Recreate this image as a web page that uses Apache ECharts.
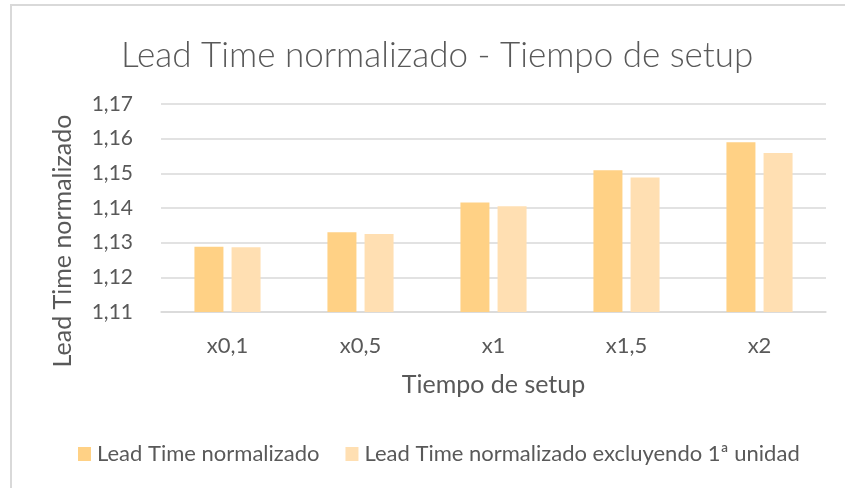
<!DOCTYPE html>
<html>
<head>
<meta charset="utf-8">
<script src="https://cdn.jsdelivr.net/npm/echarts@6/dist/echarts.min.js"></script>
<style>
html,body{margin:0;padding:0;background:#fff;}
#c{width:845px;height:488px;}
</style>
</head>
<body>
<div id="c"></div>
<script>
var categories = ['x0,1', 'x0,5', 'x1', 'x1,5', 'x2'];
var leadTime = [1.1288, 1.1330, 1.1416, 1.1509, 1.1590];
var leadTimeExcl = [1.1287, 1.1325, 1.1405, 1.1488, 1.1559];
var seriesNames = ['Lead Time normalizado', 'Lead Time normalizado excluyendo 1ª unidad'];
var yMin = 1.11, yMax = 1.17, yStep = 0.01;

var FONT = 'Lato';
var TXT = '#595959';
var chart = echarts.init(document.getElementById('c'), null, {renderer: 'canvas'});
chart.setOption({
  animation: false,
  backgroundColor: '#ffffff',
  title: {
    text: 'Lead Time normalizado - Tiempo de setup',
    left: 116,
    top: 33,
    textStyle: {fontFamily: FONT, fontWeight: 300, fontSize: 35, color: TXT}
  },
  graphic: [
    {type: 'line', shape: {x1: 11, y1: 5, x2: 11, y2: 488}, style: {stroke: '#D9D9D9', lineWidth: 2}},
    {type: 'line', shape: {x1: 10, y1: 5, x2: 845, y2: 5}, style: {stroke: '#D9D9D9', lineWidth: 2}}
  ],
  legend: {
    left: 73,
    top: 438,
    itemWidth: 13,
    itemHeight: 14,
    itemGap: 26,
    icon: 'rect',
    textStyle: {fontFamily: FONT, fontSize: 22, color: TXT, padding: [0, 0, 0, 1]},
    data: seriesNames
  },
  grid: {left: 161, right: 19, top: 104, bottom: 176, containLabel: false},
  xAxis: {
    type: 'category',
    data: categories,
    name: 'Tiempo de setup',
    nameLocation: 'middle',
    nameGap: 60,
    nameTextStyle: {fontFamily: FONT, fontSize: 25, color: TXT},
    axisTick: {show: false},
    axisLine: {lineStyle: {color: '#D9D9D9', width: 1.5}},
    axisLabel: {fontFamily: FONT, fontSize: 22, color: TXT, margin: 23}
  },
  yAxis: {
    type: 'value',
    min: yMin,
    max: yMax,
    interval: yStep,
    name: 'Lead Time normalizado',
    nameLocation: 'middle',
    nameGap: 86,
    nameRotate: 90,
    nameTextStyle: {fontFamily: FONT, fontSize: 25, color: TXT, padding: [0, 66, 0, 0]},
    axisLine: {show: false},
    axisTick: {show: false},
    splitLine: {lineStyle: {color: '#D9D9D9', width: 1.5}},
    axisLabel: {
      fontFamily: FONT, fontSize: 21, color: TXT, margin: 28,
      formatter: function (v) { return v.toFixed(2).replace('.', ','); }
    }
  },
  series: [
    {
      name: seriesNames[0], type: 'bar', data: leadTime,
      barWidth: 29, barGap: '28%',
      itemStyle: {color: '#FFD185'}
    },
    {
      name: seriesNames[1], type: 'bar', data: leadTimeExcl,
      barWidth: 29, barGap: '28%',
      itemStyle: {color: '#FFDFB2'}
    }
  ]
});
</script>
</body>
</html>
